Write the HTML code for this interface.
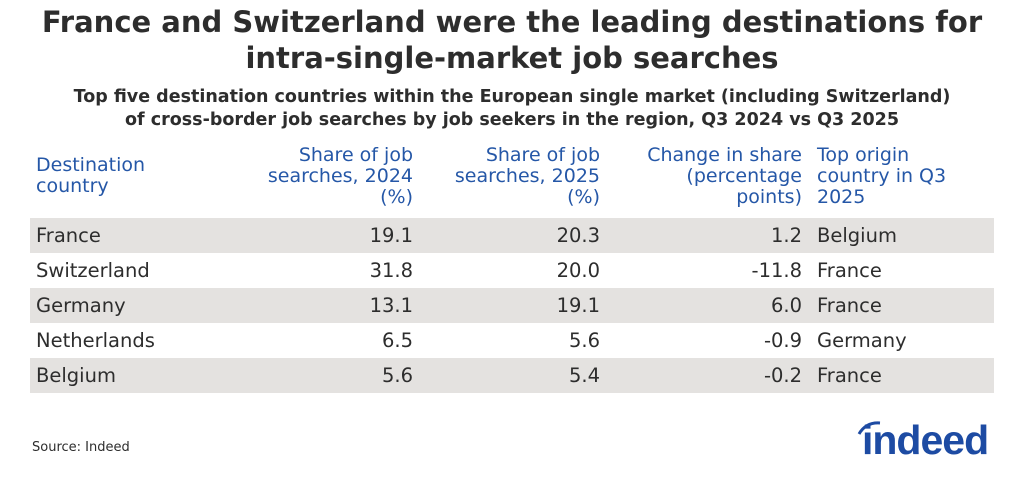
<!DOCTYPE html>
<html><head><meta charset="utf-8"><style>
body{margin:0;width:1024px;height:477px;background:#fff;font-family:"DejaVu Sans","Liberation Sans",sans-serif;color:#2d2d2d;position:relative;overflow:hidden}
.t{position:absolute;left:0;width:1024px;text-align:center;font-weight:bold}
.h{position:absolute;color:#2557a7;font-size:19px;line-height:21px}
.r{position:absolute;left:30px;width:964px;height:35px}
.c{position:absolute;font-size:19.5px;line-height:35px}
.rt{text-align:right}
</style></head><body>
<div class="t" style="top:4px;font-size:29px;line-height:36px;color:#2d2d2d">France and Switzerland were the leading destinations for<br>intra-single-market job searches</div>
<div class="t" style="top:86px;font-size:17.5px;line-height:23px">Top five destination countries within the European single market (including Switzerland)<br>of cross-border job searches by job seekers in the region, Q3 2024 vs Q3 2025</div>
<div class="h" style="left:36px;top:155px">Destination<br>country</div>
<div class="h rt" style="right:611px;top:145px">Share of job<br>searches, 2024<br>(%)</div>
<div class="h rt" style="right:424px;top:145px">Share of job<br>searches, 2025<br>(%)</div>
<div class="h rt" style="right:222px;top:145px">Change in share<br>(percentage<br>points)</div>
<div class="h" style="left:817px;top:145px">Top origin<br>country in Q3<br>2025</div>

<div class="r" style="top:218px;background:#e4e2e0"></div>
<div class="r" style="top:288px;background:#e4e2e0"></div>
<div class="r" style="top:358px;background:#e4e2e0"></div>

<div style="position:absolute;top:218px;left:0;width:1024px">
<div class="c" style="left:36px;top:0">France</div><div class="c rt" style="right:611px;top:0">19.1</div><div class="c rt" style="right:424px;top:0">20.3</div><div class="c rt" style="right:222px;top:0">1.2</div><div class="c" style="left:817px;top:0">Belgium</div>
<div class="c" style="left:36px;top:35px">Switzerland</div><div class="c rt" style="right:611px;top:35px">31.8</div><div class="c rt" style="right:424px;top:35px">20.0</div><div class="c rt" style="right:222px;top:35px">-11.8</div><div class="c" style="left:817px;top:35px">France</div>
<div class="c" style="left:36px;top:70px">Germany</div><div class="c rt" style="right:611px;top:70px">13.1</div><div class="c rt" style="right:424px;top:70px">19.1</div><div class="c rt" style="right:222px;top:70px">6.0</div><div class="c" style="left:817px;top:70px">France</div>
<div class="c" style="left:36px;top:105px">Netherlands</div><div class="c rt" style="right:611px;top:105px">6.5</div><div class="c rt" style="right:424px;top:105px">5.6</div><div class="c rt" style="right:222px;top:105px">-0.9</div><div class="c" style="left:817px;top:105px">Germany</div>
<div class="c" style="left:36px;top:140px">Belgium</div><div class="c rt" style="right:611px;top:140px">5.6</div><div class="c rt" style="right:424px;top:140px">5.4</div><div class="c rt" style="right:222px;top:140px">-0.2</div><div class="c" style="left:817px;top:140px">France</div>
</div>

<div style="position:absolute;left:32px;top:440px;font-size:13px">Source: Indeed</div>
<svg style="position:absolute;left:856px;top:418px" width="40" height="20"><path d="M3 16 Q10 4 24 5" stroke="#1d4ba3" stroke-width="3" fill="none"/></svg>
<div style="position:absolute;left:862px;top:418px;font-size:41px;line-height:44px;font-weight:bold;color:#1d4ba3;letter-spacing:-1px;font-family:'Liberation Sans',sans-serif">indeed</div>
</body></html>
